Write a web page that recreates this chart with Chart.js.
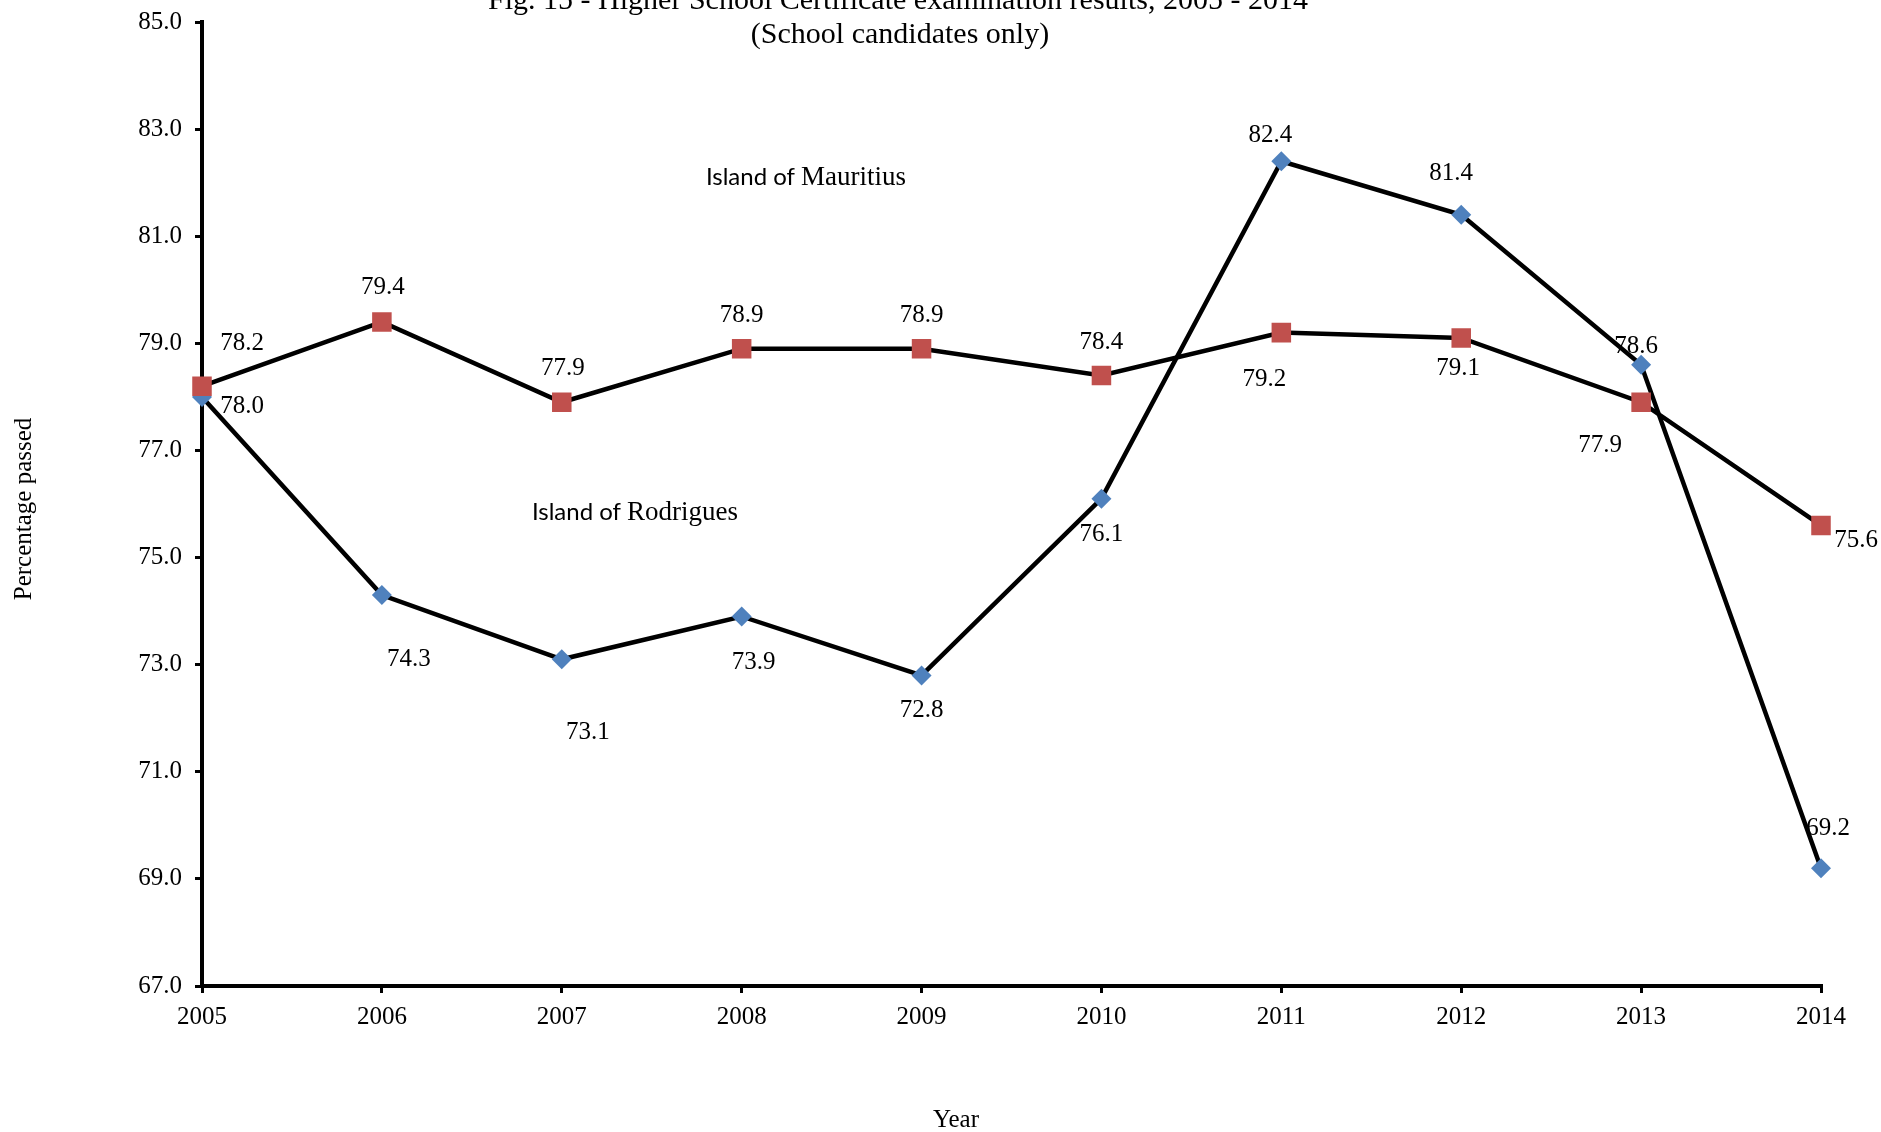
<!DOCTYPE html>
<html>
<head>
<meta charset="utf-8">
<style>
  html, body { margin: 0; padding: 0; background: #ffffff; }
  #wrap { position: relative; width: 1881px; height: 1132px; }
</style>
<script src="https://cdn.jsdelivr.net/npm/chart.js@4.4.1/dist/chart.umd.min.js"></script>
</head>
<body>
<div id="wrap"><canvas id="c" width="1881" height="1132"></canvas></div>
<script>
// ---- Data ----
const years = ['2005', '2006', '2007', '2008', '2009', '2010', '2011', '2012', '2013', '2014'];
const mauritius = [78.2, 79.4, 77.9, 78.9, 78.9, 78.4, 79.2, 79.1, 77.9, 75.6];
const rodrigues = [78.0, 74.3, 73.1, 73.9, 72.8, 76.1, 82.4, 81.4, 78.6, 69.2];
const yMin = 67, yMax = 85, yStep = 2;

const titleLines = ['Fig. 15 - Higher School Certificate examination results, 2005 - 2014', '(School candidates only)'];
const yAxisTitle = 'Percentage passed';
const xAxisTitle = 'Year';
const annotations = [
  { sans: 'Island of ', serif: 'Mauritius' },
  { sans: 'Island of ', serif: 'Rodrigues' }
];

// ---- Label placement (pixel offsets from each point) ----
const mauritiusLabelOffsets = [[40,-43],[1,-34],[1,-34],[0,-33],[0,-33],[0,-33],[-17,47],[-3,30],[-41,43],[35,15]];
const rodriguesLabelOffsets = [[40,10],[27,64],[26,73],[12,46],[0,35],[0,36],[-11,-26],[-10,-41],[-5,-18],[7,-40]];
const annotationPos = [[806, 185], [635, 520]];

const SERIF = '"Liberation Serif", "Times New Roman", serif';
const SANS = 'Lato, "Open Sans", sans-serif';

const decorPlugin = {
  id: 'decor',
  afterDatasetsDraw(chart) {
    const ctx = chart.ctx;
    ctx.save();
    ctx.fillStyle = '#000';
    // data labels
    const offs = [mauritiusLabelOffsets, rodriguesLabelOffsets];
    ctx.font = '25px ' + SERIF;
    ctx.textAlign = 'center';
    ctx.textBaseline = 'middle';
    chart.data.datasets.forEach((ds, di) => {
      const meta = chart.getDatasetMeta(di);
      meta.data.forEach((pt, i) => {
        const o = offs[di][i];
        ctx.fillText(ds.data[i].toFixed(1), pt.x + o[0], pt.y + o[1]);
      });
    });
    // annotations (mixed fonts)
    ctx.textBaseline = 'alphabetic';
    ctx.textAlign = 'left';
    annotations.forEach((a, k) => {
      ctx.font = '24px ' + SANS;
      const w1 = ctx.measureText(a.sans).width;
      ctx.font = '27px ' + SERIF;
      const w2 = ctx.measureText(a.serif).width;
      const x0 = annotationPos[k][0] - (w1 + w2) / 2;
      const y0 = annotationPos[k][1];
      ctx.font = '24px ' + SANS;
      ctx.fillText(a.sans, x0, y0);
      ctx.font = '27px ' + SERIF;
      ctx.fillText(a.serif, x0 + w1, y0);
    });
    // title
    ctx.textAlign = 'center';
    ctx.font = '30px ' + SERIF;
    ctx.fillText(titleLines[0], 898, 9);
    ctx.fillText(titleLines[1], 900, 43);
    // x axis title
    ctx.font = '25px ' + SERIF;
    ctx.fillText(xAxisTitle, 956, 1127);
    // y axis title
    ctx.save();
    ctx.translate(24, 509);
    ctx.rotate(-Math.PI / 2);
    ctx.textBaseline = 'middle';
    ctx.fillText(yAxisTitle, 0, 0);
    ctx.restore();
    ctx.restore();
  }
};

new Chart(document.getElementById('c'), {
  type: 'line',
  data: {
    labels: years,
    datasets: [
      {
        label: 'Island of Mauritius',
        data: mauritius,
        borderColor: '#000000',
        borderWidth: 4.5,
        pointStyle: 'rect',
        pointRadius: 13.8,
        pointBackgroundColor: '#C0504D',
        pointBorderColor: '#C0504D',
        pointBorderWidth: 0,
        tension: 0,
        fill: false
      },
      {
        label: 'Island of Rodrigues',
        data: rodrigues,
        borderColor: '#000000',
        borderWidth: 4.5,
        pointStyle: 'rectRot',
        pointRadius: 10,
        pointBackgroundColor: '#4F81BD',
        pointBorderColor: '#4F81BD',
        pointBorderWidth: 0,
        tension: 0,
        fill: false
      }
    ]
  },
  options: {
    responsive: false,
    animation: false,
    events: [],
    layout: { padding: { top: 22, right: 60, bottom: 0, left: 0 } },
    plugins: {
      legend: { display: false },
      title: { display: false },
      tooltip: { enabled: false }
    },
    scales: {
      x: {
        type: 'category',
        offset: false,
        border: { display: true, color: '#000', width: 4 },
        grid: { display: true, drawOnChartArea: false, drawTicks: true, tickLength: 7, color: '#000', lineWidth: 3 },
        ticks: { color: '#000', font: { family: SERIF, size: 25 }, padding: 9, maxRotation: 0, autoSkip: false },
        afterFit(scale) { scale.height = 146; }
      },
      y: {
        min: yMin,
        max: yMax,
        border: { display: true, color: '#000', width: 4 },
        grid: { display: true, drawOnChartArea: false, drawTicks: true, tickLength: 7, color: '#000', lineWidth: 3 },
        ticks: {
          stepSize: yStep,
          color: '#000',
          font: { family: SERIF, size: 25, lineHeight: 0.6 },
          padding: 13,
          callback: (v) => Number(v).toFixed(1)
        },
        afterFit(scale) { scale.width = 202; }
      }
    }
  },
  plugins: [decorPlugin]
});
</script>
</body>
</html>
